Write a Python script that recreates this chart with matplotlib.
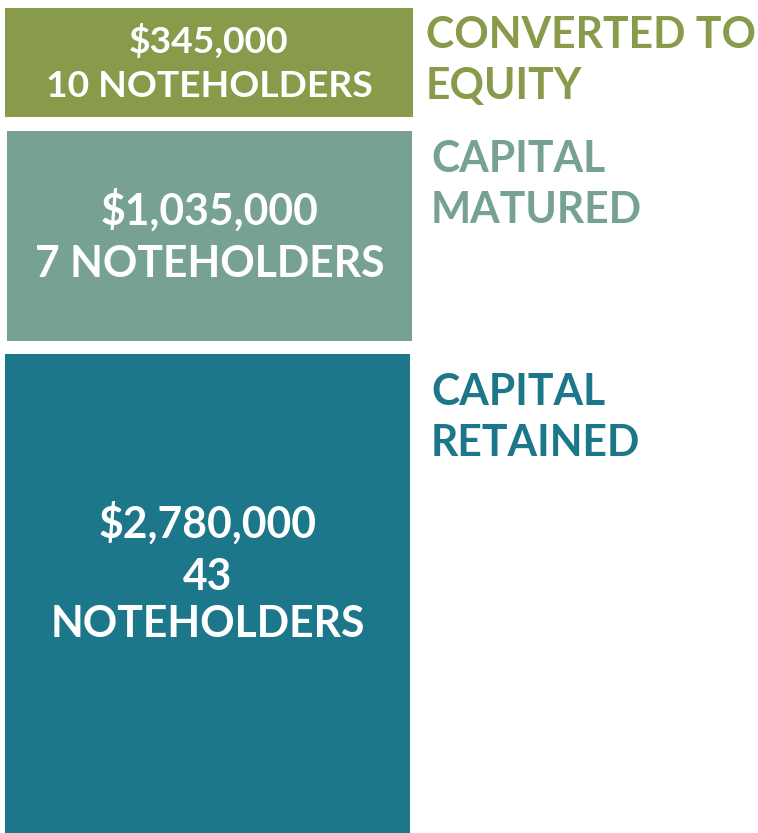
import matplotlib.pyplot as plt

# data
categories = ['CONVERTED TO\nEQUITY', 'CAPITAL\nMATURED', 'CAPITAL\nRETAINED']
amounts = [345000, 1035000, 2780000]
holders = [10, 7, 43]
colors = ['#889b4b', '#77a194', '#1d778a']

# layout (pixels, figure is 758x833 at 100 dpi)
box_left = [5, 7, 5]
box_right = [413, 412, 410]
box_top = [8, 131, 354]
box_bottom = [117, 341, 833]
box_lines = [[53, 97], [225, 277], [538, 637]]
box_font = [26.8, 30.7, 30.7]
label_x = [426, 431, 431]
label_base = [48, 172, 405]

plt.rcParams['font.family'] = ['Lato', 'DejaVu Sans']

fig = plt.figure(figsize=(7.58, 8.33), dpi=100)
ax = fig.add_axes([0, 0, 1, 1])
ax.set_xlim(0, 758)
ax.set_ylim(833, 0)
ax.axis('off')

widths = [r - l for l, r in zip(box_left, box_right)]
heights = [b - t for t, b in zip(box_top, box_bottom)]
ax.bar(box_left, heights, width=widths, bottom=box_top, align='edge',
       color=colors, linewidth=0)

for i in range(len(categories)):
    cx = (box_left[i] + box_right[i]) / 2
    money = '${:,}'.format(amounts[i])
    if i == 2:
        lines = [money, str(holders[i]), 'NOTEHOLDERS']
        ys = [box_lines[i][0], (box_lines[i][0] + box_lines[i][1]) / 2 + 2, box_lines[i][1]]
    else:
        lines = [money, '{} NOTEHOLDERS'.format(holders[i])]
        ys = box_lines[i]
    for txt, y in zip(lines, ys):
        ax.text(cx, y, txt, ha='center', va='baseline', color='white',
                fontsize=box_font[i], fontweight='bold')
    for j, part in enumerate(categories[i].split('\n')):
        ax.text(label_x[i], label_base[i] + j * 51, part, ha='left', va='baseline',
                color=colors[i], fontsize=30.7, fontweight='bold')

fig.savefig('out.png', dpi=100)
